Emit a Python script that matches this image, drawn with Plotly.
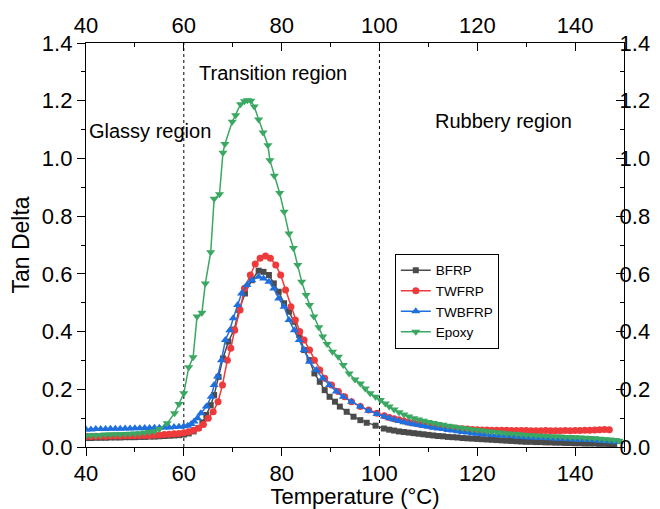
import plotly.graph_objects as go

# ---- data ----
# BFRP (black squares)
bfrp_t = [40, 41, 42, 43, 44, 45, 46, 47, 48, 49, 50, 51, 52, 53, 54, 55, 56, 57, 58, 59,
          60, 61, 62, 63, 63.8, 64.6, 65.5, 66.2, 67.1, 68.0, 69.1, 70.3, 71.3, 72.5, 73.9,
          75.3, 76.3, 77.4, 78.4, 79.4, 80.5, 81.5, 82.6, 83.6, 84.6, 85.7, 86.7, 87.8, 88.8,
          89.8, 90.9, 91.9, 93.3, 94.7, 96.1, 97.4, 99.2, 100.9, 102, 103, 104, 105, 106, 107,
          108, 109, 110, 111, 112, 113, 114, 115, 116, 117, 118, 119, 120, 121, 122, 123, 124,
          125, 126, 127, 128, 129, 130, 131, 132, 133, 134, 135, 136, 137, 138, 139, 140, 141,
          142, 143, 144, 145, 146, 147, 148]
bfrp_tan = [0.031, 0.031, 0.032, 0.032, 0.032, 0.033, 0.033, 0.033, 0.034, 0.034, 0.034, 0.035,
            0.035, 0.036, 0.036, 0.037, 0.038, 0.039, 0.040, 0.041, 0.043, 0.047, 0.054, 0.066,
            0.085, 0.111, 0.145, 0.180, 0.243, 0.307, 0.365, 0.407, 0.475, 0.532, 0.578, 0.611,
            0.607, 0.596, 0.567, 0.538, 0.498, 0.469, 0.434, 0.388, 0.336, 0.301, 0.255, 0.226,
            0.197, 0.174, 0.157, 0.140, 0.122, 0.105, 0.093, 0.084, 0.074, 0.064, 0.060, 0.057,
            0.054, 0.052, 0.050, 0.048, 0.046, 0.044, 0.042, 0.040, 0.038, 0.037, 0.035, 0.034,
            0.033, 0.031, 0.030, 0.029, 0.028, 0.027, 0.026, 0.025, 0.024, 0.023, 0.022, 0.021,
            0.020, 0.019, 0.018, 0.018, 0.017, 0.017, 0.016, 0.016, 0.015, 0.015, 0.014, 0.014,
            0.013, 0.013, 0.012, 0.012, 0.012, 0.011, 0.011, 0.010, 0.010]

# TWFRP (red circles)
twfrp_t = [40, 41, 42, 43, 44, 45, 46, 47, 48, 49, 50, 51, 52, 53, 54, 55, 56, 57, 58, 59,
           60, 61, 62, 63, 64, 65, 66, 67, 67.9, 68.9, 69.6, 70.4, 71.5, 72.4, 73.6, 74.6, 75.6,
           76.7, 77.7, 78.8, 79.8, 80.8, 81.9, 82.8, 83.7, 84.6, 85.7, 86.7, 87.8, 88.8, 90.2,
           91.6, 92.9, 94.3, 96.1, 97.8, 99.5, 101, 102, 103, 104, 105, 106, 107, 108, 109, 110,
           111, 112, 113, 114, 115, 116, 117, 118, 119, 120, 121, 122, 123, 124, 125, 126, 127,
           128, 129, 130, 131, 132, 133, 134, 135, 136, 137, 138, 139, 140, 141, 142, 143, 144,
           145, 146, 147]
twfrp_tan = [0.036, 0.036, 0.037, 0.037, 0.037, 0.038, 0.038, 0.038, 0.039, 0.039, 0.039, 0.040,
             0.040, 0.040, 0.041, 0.042, 0.043, 0.044, 0.046, 0.047, 0.049, 0.053, 0.058, 0.065,
             0.078, 0.100, 0.122, 0.157, 0.215, 0.301, 0.342, 0.405, 0.475, 0.550, 0.596, 0.634,
             0.654, 0.662, 0.654, 0.631, 0.596, 0.544, 0.486, 0.440, 0.400, 0.371, 0.336, 0.301,
             0.267, 0.238, 0.215, 0.192, 0.174, 0.157, 0.140, 0.128, 0.117, 0.108, 0.102, 0.098,
             0.094, 0.090, 0.086, 0.083, 0.080, 0.077, 0.075, 0.073, 0.071, 0.069, 0.067, 0.066,
             0.064, 0.063, 0.062, 0.061, 0.060, 0.059, 0.059, 0.058, 0.058, 0.058, 0.058, 0.057,
             0.057, 0.057, 0.057, 0.056, 0.056, 0.056, 0.057, 0.056, 0.056, 0.056, 0.057, 0.056,
             0.057, 0.057, 0.058, 0.058, 0.059, 0.060, 0.061, 0.060]

# TWBFRP (blue up-triangles)
twbfrp_t = [40, 41, 42, 43, 44, 45, 46, 47, 48, 49, 50, 51, 52, 53, 54, 55, 56, 57, 58, 59,
            60, 60.8, 61.5, 62.1, 62.8, 63.5, 64.6, 65.6, 66.2, 66.9, 67.7, 68.5, 69.4, 70.1,
            71.0, 71.8, 72.9, 73.9, 75.3, 76.3, 77.4, 78.4, 79.4, 80.5, 81.5, 82.6, 83.6, 84.6,
            85.7, 87.1, 88.4, 89.8, 91.2, 92.6, 94.3, 96.1, 97.8, 99.5, 101, 102, 103, 104, 105,
            106, 107, 108, 109, 110, 111, 112, 113, 114, 115, 116, 117, 118, 119, 120, 121, 122,
            123, 124, 125, 126, 127, 128, 129, 130, 131, 132, 133, 134, 135, 136, 137, 138, 139,
            140, 141, 142, 143, 144, 145, 146, 147, 148, 149]
twbfrp_tan = [0.061, 0.061, 0.062, 0.062, 0.062, 0.063, 0.063, 0.063, 0.064, 0.064, 0.065, 0.065,
              0.066, 0.066, 0.067, 0.067, 0.068, 0.068, 0.069, 0.070, 0.072, 0.074, 0.080, 0.088,
              0.100, 0.117, 0.140, 0.174, 0.215, 0.244, 0.301, 0.371, 0.405, 0.446, 0.492, 0.532,
              0.561, 0.578, 0.590, 0.584, 0.573, 0.549, 0.515, 0.486, 0.440, 0.405, 0.371, 0.336,
              0.295, 0.267, 0.238, 0.215, 0.192, 0.174, 0.157, 0.140, 0.126, 0.114, 0.106, 0.100,
              0.095, 0.090, 0.086, 0.082, 0.079, 0.076, 0.073, 0.070, 0.067, 0.064, 0.062, 0.059,
              0.057, 0.055, 0.052, 0.050, 0.048, 0.046, 0.045, 0.043, 0.042, 0.041, 0.040, 0.039,
              0.038, 0.036, 0.035, 0.034, 0.033, 0.032, 0.032, 0.031, 0.030, 0.029, 0.029, 0.028,
              0.027, 0.026, 0.025, 0.025, 0.024, 0.023, 0.022, 0.021, 0.020, 0.019, 0.018]

# Epoxy (green down-triangles)
epoxy_t = [40, 41, 42, 43, 44, 45, 46, 47, 48, 49, 50, 51, 52, 53, 54, 55, 56.6, 58.1, 59.0,
           60.0, 61.0, 61.9, 62.7, 63.7, 64.4, 65.5, 66.2, 67.3, 68.0, 68.4, 69.9, 70.6, 71.6,
           72.4, 73.0, 73.7, 74.4, 75.3, 76.2, 77.2, 77.6, 78.5, 79.6, 80.5, 81.5, 82.4, 83.3,
           84.1, 85.0, 85.7, 86.6, 87.6, 88.4, 89.3, 90.4, 91.6, 92.6, 93.8, 95.0, 96.1, 97.1,
           98.1, 99.2, 100.2, 101.2, 102, 103, 104, 105, 106, 107, 108, 109, 110, 111, 112, 113,
           114, 115, 116, 117, 118, 119, 120, 121, 122, 123, 124, 125, 126, 127, 128, 129, 130,
           131, 132, 133, 134, 135, 136, 137, 138, 139, 140, 141, 142, 143, 144, 145, 146, 147,
           148, 149]
epoxy_tan = [0.040, 0.041, 0.041, 0.042, 0.043, 0.043, 0.044, 0.044, 0.045, 0.046, 0.047, 0.048,
             0.050, 0.052, 0.055, 0.062, 0.082, 0.117, 0.149, 0.186, 0.276, 0.311, 0.452, 0.465,
             0.567, 0.675, 0.860, 0.876, 1.020, 1.050, 1.127, 1.150, 1.188, 1.198, 1.202, 1.200,
             1.180, 1.135, 1.090, 1.046, 0.994, 0.940, 0.880, 0.815, 0.740, 0.690, 0.631, 0.573,
             0.527, 0.492, 0.452, 0.415, 0.383, 0.357, 0.330, 0.313, 0.284, 0.255, 0.234, 0.220,
             0.203, 0.186, 0.174, 0.163, 0.151, 0.140, 0.130, 0.120, 0.113, 0.106, 0.100, 0.095,
             0.091, 0.087, 0.083, 0.080, 0.077, 0.074, 0.071, 0.068, 0.066, 0.063, 0.061, 0.059,
             0.057, 0.055, 0.053, 0.051, 0.049, 0.047, 0.046, 0.045, 0.043, 0.042, 0.041, 0.040,
             0.039, 0.038, 0.037, 0.036, 0.036, 0.035, 0.035, 0.034, 0.033, 0.032, 0.031, 0.030,
             0.029, 0.027, 0.026, 0.024, 0.022]

region_labels = ["Glassy region", "Transition region", "Rubbery region"]
region_bounds = [60, 100]

FONT = "Liberation Sans, Arial, sans-serif"

series = [
    ("BFRP", bfrp_t, bfrp_tan, "#4b4b4b", "square", 6),
    ("TWFRP", twfrp_t, twfrp_tan, "#ef3a3c", "circle", 7),
    ("TWBFRP", twbfrp_t, twbfrp_tan, "#1f6fde", "triangle-up", 8),
    ("Epoxy", epoxy_t, epoxy_tan, "#3aa862", "triangle-down", 8),
]

fig = go.Figure()
for name, t, v, col, sym, sz in series:
    fig.add_trace(go.Scatter(
        x=t, y=v, name=name, mode="lines+markers",
        line=dict(color=col, width=1.5),
        marker=dict(color=col, symbol=sym, size=sz),
    ))

# dotted region boundaries
for b in region_bounds:
    fig.add_shape(type="line", x0=b, x1=b, y0=0, y1=1.4, xref="x", yref="y",
                  line=dict(color="black", width=1, dash="dot"), layer="below")

# region captions
fig.add_annotation(x=40.3, y=1.095, text=region_labels[0], showarrow=False,
                   xanchor="left", font=dict(size=20, color="black", family=FONT))
fig.add_annotation(x=78.2, y=1.296, text=region_labels[1], showarrow=False,
                   xanchor="center", font=dict(size=20, color="black", family=FONT))
fig.add_annotation(x=125.3, y=1.13, text=region_labels[2], showarrow=False,
                   xanchor="center", font=dict(size=20, color="black", family=FONT))

axis_common = dict(showline=True, linecolor="black", linewidth=1.3, showgrid=False,
                   zeroline=False, tickcolor="black", ticklen=8, tickwidth=1.2,
                   automargin=False,
                   tickfont=dict(size=22, color="black", family=FONT))

# page body has an 8px margin, so the figure is 8px smaller than the window
fig.update_layout(
    width=652, height=501,
    margin=dict(l=78, r=36, t=35, b=62),
    plot_bgcolor="white", paper_bgcolor="white",
    font=dict(family=FONT, color="black"),
    showlegend=True,
    legend=dict(x=0.574, y=0.478, xanchor="left", yanchor="top",
                bgcolor="white", bordercolor="black", borderwidth=1,
                font=dict(size=13.5, color="black", family=FONT),
                tracegroupgap=0),
    xaxis=dict(range=[40, 150], dtick=20, tick0=40, ticks="outside", ticklabelstandoff=-2,
               minor=dict(dtick=10, ticklen=4, ticks="outside", tickcolor="black"),
               title=dict(text="Temperature (°C)", font=dict(size=22, family=FONT), standoff=6),
               **axis_common),
    xaxis2=dict(range=[40, 150], dtick=20, tick0=40, ticks="inside", overlaying="x",
                side="top", matches="x",
                minor=dict(dtick=10, ticklen=4, ticks="inside", tickcolor="black"),
                **axis_common),
    yaxis=dict(range=[0, 1.4], dtick=0.2, tickformat=".1f", ticks="outside",
               minor=dict(dtick=0.1, ticklen=4, ticks="outside", tickcolor="black"),
               title=dict(text="Tan Delta", font=dict(size=23, family=FONT), standoff=8),
               **axis_common),
    yaxis2=dict(range=[0, 1.4], dtick=0.2, tickformat=".1f", ticks="inside", overlaying="y",
                side="right", matches="y", ticklabelstandoff=-10,
                minor=dict(dtick=0.1, ticklen=4, ticks="inside", tickcolor="black"),
                **axis_common),
)

# invisible trace to activate top and right axes
fig.add_trace(go.Scatter(x=[40], y=[0], xaxis="x2", yaxis="y2", mode="markers",
                         marker=dict(opacity=0), showlegend=False, hoverinfo="skip"))

fig.write_html("out.html")
